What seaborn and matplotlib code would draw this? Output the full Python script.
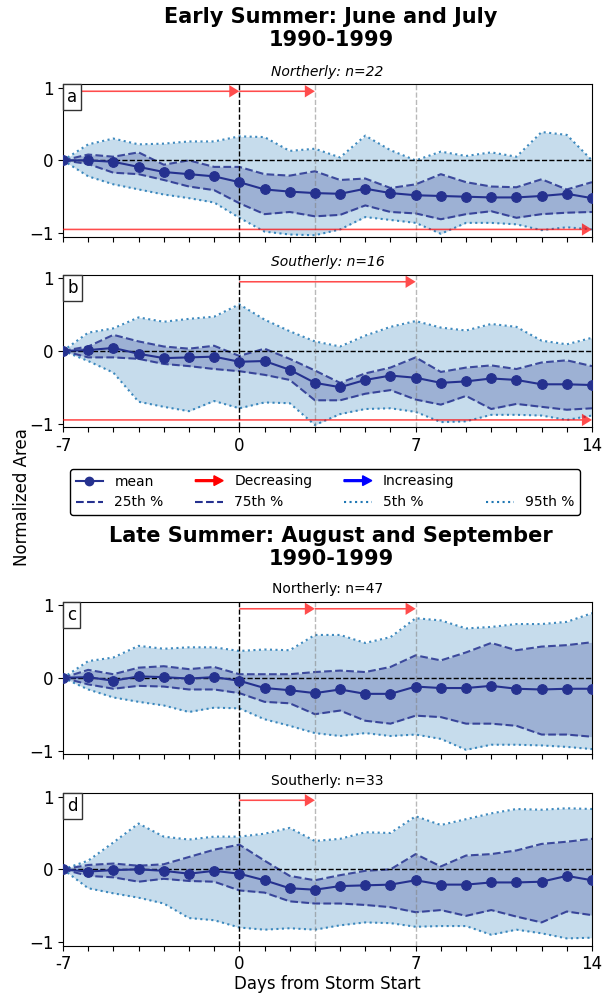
import matplotlib
matplotlib.use("Agg")
import matplotlib.pyplot as plt
import seaborn as sns
import numpy as np
from matplotlib.lines import Line2D
from matplotlib.patches import FancyArrow, Patch
from matplotlib.legend_handler import HandlerPatch
from matplotlib.offsetbox import AnchoredText

days = list(range(-7, 15))

# ---- Panel a: Early summer, Northerly ----
a_mean = [0, 0.0, -0.02, -0.09, -0.16, -0.19, -0.22, -0.30, -0.40, -0.43, -0.45,
          -0.46, -0.39, -0.45, -0.48, -0.49, -0.50, -0.51, -0.51, -0.49, -0.46, -0.52]
a_p75 = [0, 0.08, 0.05, 0.11, -0.06, 0.0, -0.09, -0.09, -0.19, -0.21, -0.15,
         -0.27, -0.25, -0.38, -0.33, -0.19, -0.30, -0.36, -0.37, -0.26, -0.40, -0.30]
a_p25 = [0, -0.05, -0.17, -0.19, -0.27, -0.36, -0.41, -0.59, -0.74, -0.71, -0.77,
         -0.75, -0.62, -0.71, -0.73, -0.81, -0.74, -0.70, -0.79, -0.74, -0.72, -0.71]
a_p95 = [0, 0.22, 0.30, 0.22, 0.23, 0.26, 0.26, 0.33, 0.32, 0.13, 0.16,
         0.04, 0.34, 0.14, 0.0, 0.12, 0.06, 0.11, 0.05, 0.39, 0.35, 0.0]
a_p5 = [0, -0.22, -0.33, -0.40, -0.47, -0.52, -0.58, -0.79, -0.98, -1.02, -1.03,
        -0.95, -0.78, -0.82, -0.86, -1.01, -0.86, -0.86, -0.88, -0.96, -0.92, -0.95]
a_arrows = [(-7, 0, 0.95, "dec"), (0, 3, 0.95, "dec"), (-7, 14, -0.95, "dec")]

# ---- Panel b: Early summer, Southerly ----
b_mean = [0, 0.01, 0.04, -0.04, -0.10, -0.09, -0.08, -0.15, -0.14, -0.26, -0.44,
          -0.50, -0.40, -0.34, -0.37, -0.44, -0.42, -0.38, -0.40, -0.46, -0.46, -0.47]
b_p75 = [0, 0.06, 0.22, 0.13, 0.06, 0.03, 0.07, -0.07, 0.03, -0.11, -0.27,
         -0.44, -0.31, -0.23, -0.09, -0.29, -0.23, -0.20, -0.25, -0.16, -0.13, -0.21]
b_p25 = [0, -0.09, -0.09, -0.11, -0.18, -0.21, -0.25, -0.28, -0.33, -0.40, -0.68,
         -0.68, -0.59, -0.54, -0.67, -0.74, -0.62, -0.80, -0.73, -0.77, -0.81, -0.79]
b_p95 = [0, 0.25, 0.31, 0.46, 0.40, 0.44, 0.47, 0.64, 0.43, 0.27, 0.13,
         0.06, 0.21, 0.33, 0.41, 0.32, 0.28, 0.37, 0.33, 0.14, 0.09, 0.18]
b_p5 = [0, -0.14, -0.30, -0.70, -0.77, -0.83, -0.69, -0.79, -0.71, -0.72, -1.02,
        -0.87, -0.80, -0.79, -0.84, -0.98, -0.97, -0.88, -0.88, -0.89, -0.95, -0.89]
b_arrows = [(0, 7, 0.95, "dec"), (-7, 14, -0.95, "dec")]

# ---- Panel c: Late summer, Northerly ----
c_mean = [0, 0.01, -0.04, 0.02, 0.01, -0.01, 0.01, -0.04, -0.14, -0.17, -0.21,
          -0.16, -0.22, -0.22, -0.12, -0.14, -0.14, -0.11, -0.15, -0.16, -0.15, -0.15]
c_p75 = [0, 0.11, 0.05, 0.14, 0.16, 0.12, 0.15, 0.05, 0.05, 0.05, 0.08,
         0.10, 0.08, 0.15, 0.31, 0.24, 0.35, 0.48, 0.38, 0.43, 0.45, 0.49]
c_p25 = [0, -0.09, -0.15, -0.11, -0.12, -0.16, -0.16, -0.21, -0.33, -0.35, -0.50,
         -0.45, -0.59, -0.63, -0.52, -0.54, -0.63, -0.63, -0.66, -0.78, -0.78, -0.81]
c_p95 = [0, 0.23, 0.28, 0.44, 0.40, 0.42, 0.42, 0.37, 0.39, 0.38, 0.59,
         0.59, 0.48, 0.56, 0.82, 0.79, 0.68, 0.70, 0.74, 0.74, 0.77, 0.89]
c_p5 = [0, -0.16, -0.27, -0.33, -0.38, -0.47, -0.41, -0.42, -0.57, -0.66, -0.76,
        -0.80, -0.76, -0.80, -0.78, -0.84, -0.99, -0.92, -0.92, -0.93, -0.95, -0.98]
c_arrows = [(0, 3, 0.95, "dec"), (3, 7, 0.95, "dec")]

# ---- Panel d: Late summer, Southerly ----
d_mean = [0, -0.03, -0.01, 0.0, -0.02, -0.06, -0.02, -0.06, -0.15, -0.26, -0.28,
          -0.23, -0.22, -0.21, -0.15, -0.21, -0.21, -0.18, -0.18, -0.17, -0.09, -0.15]
d_p75 = [0, 0.06, 0.08, 0.05, 0.07, 0.17, 0.27, 0.34, 0.12, -0.09, -0.15,
         -0.08, -0.02, 0.0, 0.21, 0.04, 0.19, 0.21, 0.26, 0.35, 0.38, 0.42]
d_p25 = [0, -0.09, -0.11, -0.17, -0.13, -0.16, -0.17, -0.29, -0.32, -0.44, -0.47,
         -0.47, -0.49, -0.52, -0.59, -0.56, -0.64, -0.56, -0.65, -0.73, -0.58, -0.63]
d_p95 = [0, 0.12, 0.37, 0.63, 0.45, 0.41, 0.45, 0.45, 0.49, 0.57, 0.39,
         0.42, 0.51, 0.50, 0.73, 0.61, 0.69, 0.77, 0.83, 0.82, 0.84, 0.83]
d_p5 = [0, -0.26, -0.33, -0.39, -0.47, -0.67, -0.70, -0.80, -0.83, -0.81, -0.83,
        -0.77, -0.73, -0.74, -0.79, -0.78, -0.78, -0.90, -0.83, -0.88, -0.95, -0.94]
d_arrows = [(0, 3, 0.95, "dec")]

titles = ["Northerly: n=22", "Southerly: n=16", "Northerly: n=47", "Southerly: n=33"]
letters = ["a", "b", "c", "d"]
xtick_labels = {-7: "-7", 0: "0", 7: "7", 14: "14"}
group_titles = ["Early Summer: June and July\n1990-1999",
                "Late Summer: August and September\n1990-1999"]

navy = "#25318f"
light = "#1f77b4"

fig = plt.figure(figsize=(6.03, 9.94), dpi=100)
W, H = 603, 994
left, right = 63, 592


def rect(top, bottom):
    return [left / W, 1 - bottom / H, (right - left) / W, (bottom - top) / H]


axes = [fig.add_axes(rect(84, 236.7)), fig.add_axes(rect(274.5, 427.2)),
        fig.add_axes(rect(601.5, 754.2)), fig.add_axes(rect(793, 945.7))]

panels = [
    (a_mean, a_p25, a_p75, a_p5, a_p95, a_arrows),
    (b_mean, b_p25, b_p75, b_p5, b_p95, b_arrows),
    (c_mean, c_p25, c_p75, c_p5, c_p95, c_arrows),
    (d_mean, d_p25, d_p75, d_p5, d_p95, d_arrows),
]

for i, (ax, (mean, p25, p75, p5, p95, arrows)) in enumerate(zip(axes, panels)):
    ax.fill_between(days, p5, p95, color=light, alpha=0.25, lw=0, zorder=1)
    ax.fill_between(days, p25, p75, color=navy, alpha=0.25, lw=0, zorder=1.5)
    sns.lineplot(x=days, y=p5, ax=ax, color=light, linestyle=":", lw=1.5, alpha=0.85, zorder=2)
    sns.lineplot(x=days, y=p95, ax=ax, color=light, linestyle=":", lw=1.5, alpha=0.85, zorder=2)
    sns.lineplot(x=days, y=p25, ax=ax, color=navy, linestyle="--", lw=1.5, alpha=0.85, zorder=2)
    sns.lineplot(x=days, y=p75, ax=ax, color=navy, linestyle="--", lw=1.5, alpha=0.85, zorder=2)
    ax.axhline(0, color="black", ls="--", lw=1, zorder=2.5)
    ax.axvline(0, color="black", ls="--", lw=1, zorder=2.5)
    for xv in (3, 7):
        ax.axvline(xv, color="gray", ls="--", lw=1, alpha=0.55, zorder=2.5)
    sns.lineplot(x=days, y=mean, ax=ax, color=navy, lw=1.5, marker="o", markersize=7,
                 markeredgecolor=navy, markerfacecolor=navy, zorder=3)
    for (x0, x1, yv, kind) in arrows:
        col = "red" if kind == "dec" else "blue"
        ax.arrow(x0, yv, x1 - x0, 0, width=0.022, head_width=0.17, head_length=0.4,
                 length_includes_head=True, color=col, alpha=0.7, lw=0, zorder=4)
    ax.set_xlim(-7, 14)
    ax.set_ylim(-1.05, 1.05)
    ax.set_yticks([-1, 0, 1])
    ax.set_xticks(days)
    if i in (1, 3):
        ax.set_xticklabels([xtick_labels.get(d, "") for d in days])
    else:
        ax.set_xticklabels(["" for d in days])
    ax.tick_params(labelsize=12)
    ax.set_xlabel("")
    ax.set_ylabel("")
    ax.set_title(titles[i], fontsize=10, fontstyle="italic" if i < 2 else "normal", pad=6)
    at = AnchoredText(letters[i], loc="upper left", prop=dict(size=12), frameon=True,
                      pad=0.25, borderpad=0.0)
    at.patch.set_boxstyle("square,pad=0")
    at.patch.set_edgecolor("#333333")
    at.zorder = 6
    ax.add_artist(at)

axes[3].set_xlabel("Days from Storm Start", fontsize=12, labelpad=1)

cx = 331 / W
fig.text(cx, 1 - 7 / H, group_titles[0], ha="center", va="top", fontsize=15,
         fontweight="bold", linespacing=1.2)
fig.text(cx, 1 - 526 / H, group_titles[1], ha="center", va="top", fontsize=15,
         fontweight="bold", linespacing=1.2)
fig.text(22 / W, 0.5, "Normalized Area", rotation=90, ha="center", va="center", fontsize=12)


def make_arrow(legend, orig_handle, xdescent, ydescent, width, height, fontsize):
    return FancyArrow(-xdescent, height / 2 - ydescent, width, 0, width=1.3,
                      head_width=height * 1.0, head_length=width * 0.33,
                      length_includes_head=True)


h_mean = Line2D([], [], color=navy, lw=1.5, marker="o", markersize=6)
h_25 = Line2D([], [], color=navy, lw=1.5, ls="--")
h_75 = Line2D([], [], color=navy, lw=1.5, ls="--")
h_5 = Line2D([], [], color=light, lw=1.5, ls=":")
h_95 = Line2D([], [], color=light, lw=1.5, ls=":")
h_dec = Patch(facecolor="red", edgecolor="red")
h_inc = Patch(facecolor="blue", edgecolor="blue")
h_blank = Line2D([], [], color="none")

handles = [h_mean, h_25, h_dec, h_75, h_inc, h_5, h_blank, h_95]
labels = ["mean", "25th %", "Decreasing", "75th %", "Increasing", "5th %", "", "95th %"]
leg = fig.legend(handles, labels, ncol=4, loc="lower left", mode="expand",
                 bbox_to_anchor=(70 / W, 1 - 515 / H, 510 / W, 46 / H), fontsize=10,
                 frameon=True, edgecolor="black", framealpha=1, borderaxespad=0,
                 handler_map={h_dec: HandlerPatch(patch_func=make_arrow),
                              h_inc: HandlerPatch(patch_func=make_arrow)})
leg.get_frame().set_linewidth(1.0)

fig.savefig("out.png", dpi=100)
